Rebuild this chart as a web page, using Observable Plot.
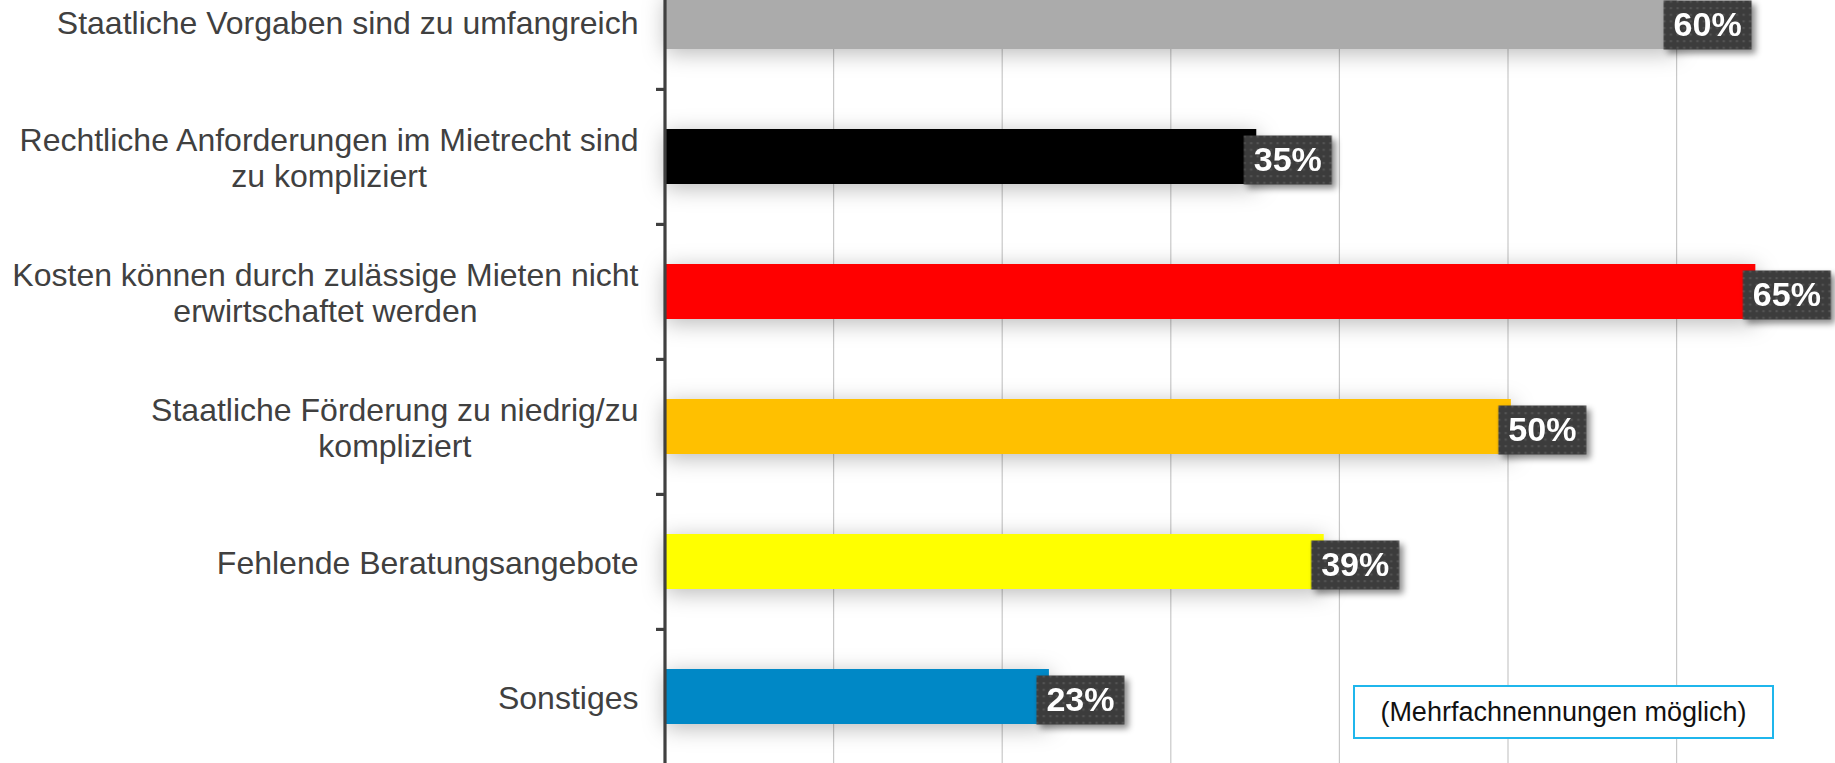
<!DOCTYPE html>
<html>
<head>
<meta charset="utf-8">
<script src="https://cdn.jsdelivr.net/npm/d3@7"></script>
<script src="https://cdn.jsdelivr.net/npm/@observablehq/plot@0.6"></script>
<style>
  html, body { margin: 0; padding: 0; background: #fff; }
  #wrap { position: relative; width: 1835px; height: 763px; overflow: hidden; }
  #note {
    position: absolute; left: 1353px; top: 685px; width: 417px; height: 50px;
    border: 2px solid #1FB6EC; background: #fff;
    display: flex; align-items: center; justify-content: center;
    font-family: "Liberation Sans", Arial, sans-serif; font-size: 27px; color: #111;
  }
</style>
</head>
<body>
<div id="wrap"></div>
<script>
// ---- data ----
const categories = [
  "Staatliche Vorgaben sind zu umfangreich",
  "Rechtliche Anforderungen im Mietrecht sind\nzu kompliziert",
  "Kosten können durch zulässige Mieten nicht\nerwirtschaftet werden",
  "Staatliche Förderung zu niedrig/zu\nkompliziert",
  "Fehlende Beratungsangebote",
  "Sonstiges"
];
const values = [60, 35.1, 64.7, 50.2, 39.1, 22.8];
const gridTicks = [10, 20, 30, 40, 50, 60];
const noteText = "(Mehrfachnennungen möglich)";

// ---- styles ----
const barColors = ["#ABABAB", "#000000", "#FF0000", "#FFC000", "#FFFF00", "#0088C6"];
const font = "Liberation Sans, Arial, sans-serif";

const data = categories.map((c, i) => ({cat: c, value: values[i]}));

const yRange = [-47, 764];
const step = (yRange[1] - yRange[0]) / categories.length;

const rectSymbol = {
  draw(context) { context.rect(-44, -24.5, 88, 49); }
};

const chart = Plot.plot({
  width: 1835,
  height: 763,
  marginLeft: 664,
  marginRight: 0,
  marginTop: 0,
  marginBottom: 0,
  style: {fontFamily: font, background: "white", overflow: "hidden"},
  x: {domain: [0, 70], range: [664.5, 1844.7], axis: null},
  y: {domain: categories, range: yRange, paddingInner: 0.596, paddingOuter: 0.298, label: null},
  color: {domain: categories, range: barColors},
  marks: [
    Plot.ruleX(gridTicks, {stroke: "#c8c8c8", strokeWidth: 1.2}),
    Plot.barX(data, {x: "value", y: "cat", fill: "cat"}),
    Plot.ruleX([0], {stroke: "#404040", strokeWidth: 3.2}),
    Plot.axisY(categories.slice(1), {
      tickSize: 8, tickFormat: () => "", dy: -step / 2, label: null,
      stroke: "#404040", strokeWidth: 3.2
    }),
    Plot.text(categories, {
      y: d => d, frameAnchor: "left", textAnchor: "end", dx: -26,
      fontSize: 32, lineHeight: 1.13, fill: "#404040"
    }),
    Plot.dot(data, {x: "value", y: "cat", dx: 31, dy: 3, r: 1, symbol: rectSymbol, fill: "#3f3f3f", stroke: "none"}),
    Plot.text(data, {
      x: "value", y: "cat", dx: 31, dy: 3,
      text: d => Math.round(d.value) + "%",
      fill: "white", fontSize: 34, fontWeight: "bold"
    })
  ]
});

const wrap = document.getElementById("wrap");
wrap.appendChild(chart);

const note = document.createElement("div");
note.id = "note";
note.textContent = noteText;
wrap.appendChild(note);

// ---- post styling ----
const svg = d3.select(chart.tagName.toLowerCase() === "svg" ? chart : chart.querySelector("svg"));
const defs = svg.insert("defs", ":first-child");
const pat = defs.append("pattern").attr("id", "lblDots")
  .attr("patternUnits", "userSpaceOnUse").attr("width", 6.6).attr("height", 6.6);
pat.append("rect").attr("width", 6.6).attr("height", 6.6).attr("fill", "#3c3c3c");
pat.append("rect").attr("x", 2).attr("y", 2).attr("width", 2).attr("height", 2).attr("fill", "#585858");

svg.selectAll('g[aria-label="bar"]').style("filter", "drop-shadow(1px 4px 11px rgba(0,0,0,0.28))");
svg.selectAll('g[aria-label="dot"]').style("filter", "drop-shadow(4px 4px 3px rgba(0,0,0,0.45))")
  .selectAll("path").attr("fill", "url(#lblDots)");

// center-align lines within multi-line category labels (block stays right-aligned)
svg.selectAll('g[aria-label="text"]').filter((d, i) => i === 0).selectAll("text").each(function () {
  const spans = this.querySelectorAll("tspan");
  if (spans.length < 2) return;
  let w = 0;
  spans.forEach(s => { w = Math.max(w, s.getComputedTextLength()); });
  this.setAttribute("text-anchor", "middle");
  spans.forEach(s => s.setAttribute("x", -w / 2));
});
</script>
</body>
</html>
